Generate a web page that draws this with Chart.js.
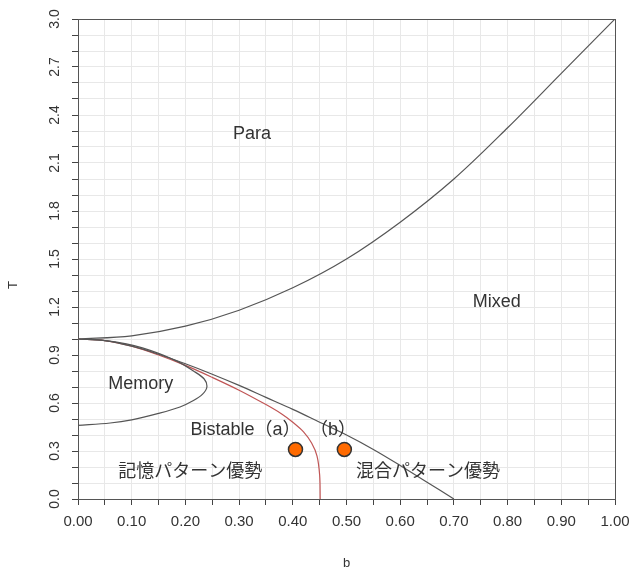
<!DOCTYPE html>
<html>
<head>
<meta charset="utf-8">
<script src="https://cdn.jsdelivr.net/npm/chart.js@4/dist/chart.umd.min.js"></script>
<style>
html,body{margin:0;padding:0;background:#fff;}
#wrap{position:relative;width:632px;height:573px;}
</style>
</head>
<body>
<div id="wrap"><canvas id="c" width="632" height="573"></canvas></div>
<script>
// ---- data ----
const paraB = [0, 0.1, 0.2, 0.3, 0.4, 0.5, 0.6, 0.7, 0.8, 0.9, 1.0];
const paraT = [1.0, 1.02, 1.08, 1.18, 1.32, 1.50, 1.73, 2.00, 2.32, 2.66, 3.0];

const mixB = [0, 0.05, 0.1, 0.15, 0.2, 0.25, 0.3, 0.35, 0.4, 0.45, 0.5, 0.55, 0.6, 0.65, 0.7];
const mixT = [1.0, 0.99, 0.955, 0.905, 0.845, 0.78, 0.71, 0.635, 0.56, 0.48, 0.40, 0.31, 0.21, 0.105, 0.0];

const redB = [0, 0.05, 0.1, 0.15, 0.2, 0.25, 0.3, 0.35, 0.38, 0.4, 0.42, 0.435, 0.445, 0.45, 0.451];
const redT = [1.0, 0.99, 0.955, 0.90, 0.835, 0.76, 0.68, 0.59, 0.53, 0.48, 0.42, 0.35, 0.27, 0.15, 0.0];

const memB = [0, 0.06, 0.1, 0.15, 0.19, 0.215, 0.232, 0.24, 0.235, 0.215, 0.185, 0.15, 0.12, 0.09, 0.05, 0];
const memT = [0.46, 0.475, 0.495, 0.535, 0.575, 0.615, 0.655, 0.70, 0.75, 0.80, 0.86, 0.91, 0.945, 0.97, 0.99, 1.0];

const ptB = [0.405, 0.496];
const ptT = [0.31, 0.31];

const labelTexts = ["Para", "Mixed", "Memory", "Bistable（a）", "（b）", "記憶パターン優勢", "混合パターン優勢"];
const labelB = [0.324, 0.780, 0.117, 0.312, 0.475, 0.209, 0.652];
const labelT = [2.28, 1.23, 0.72, 0.43, 0.43, 0.17, 0.17];

const xTickStep = 0.05;
const yTickStep = 0.1;

// ---- helpers ----
function pts(bs, ts) { return bs.map((b, i) => ({x: b, y: ts[i]})); }

const lineStyle = (data, color) => ({
  data: data, showLine: true, borderColor: color, borderWidth: 1.2,
  pointRadius: 0, pointHoverRadius: 0, tension: 0.35, fill: false
});

const annotate = {
  id: 'annotate',
  afterDatasetsDraw(chart) {
    const ctx = chart.ctx, xs = chart.scales.x, ys = chart.scales.y;
    ctx.save();
    ctx.fillStyle = '#333';
    ctx.textAlign = 'center';
    ctx.textBaseline = 'middle';
    labelTexts.forEach((t, i) => {
      ctx.font = '18px "Liberation Sans", "Noto Sans CJK JP", sans-serif';
      ctx.fillText(t, xs.getPixelForValue(labelB[i]), ys.getPixelForValue(labelT[i]));
    });
    ctx.restore();
  }
};

const gridColor = '#e8e8e8';
const axisColor = '#555';

new Chart(document.getElementById('c'), {
  type: 'scatter',
  data: {
    datasets: [
      lineStyle(pts(paraB, paraT), '#555'),
      lineStyle(pts(mixB, mixT), '#555'),
      lineStyle(pts(memB, memT), '#555'),
      lineStyle(pts(redB, redT), '#c05555'),
      {
        data: pts(ptB, ptT), showLine: false, pointRadius: 7, pointHoverRadius: 7,
        backgroundColor: '#ff6a00', borderColor: '#333', borderWidth: 1.5
      }
    ]
  },
  options: {
    responsive: false,
    animation: false,
    devicePixelRatio: 1,
    layout: {padding: 0, autoPadding: false},
    plugins: {legend: {display: false}, tooltip: {enabled: false}},
    scales: {
      x: {
        type: 'linear', position: 'bottom', min: 0, max: 1,
        afterFit(s) { s.height = 74; s.paddingRight = 0; },
        border: {display: true, color: axisColor, width: 1},
        grid: {color: gridColor, tickColor: '#444', tickLength: 6, drawTicks: true},
        ticks: {
          stepSize: xTickStep, autoSkip: false, maxRotation: 0, minRotation: 0,
          padding: 8, color: '#333',
          font: {family: '"Liberation Sans", Arial, sans-serif', size: 15},
          callback(v) { return Math.round(v * 100) % 10 === 0 ? v.toFixed(2) : ''; }
        },
        title: {display: true, text: 'b', color: '#333', padding: {top: 0, bottom: 2},
          font: {family: '"Liberation Sans", Arial, sans-serif', size: 13}}
      },
      y: {
        type: 'linear', position: 'left', min: 0, max: 3,
        afterFit(s) { s.width = 78; },
        border: {display: true, color: axisColor, width: 1},
        grid: {color: gridColor, tickColor: '#444', tickLength: 6, drawTicks: true},
        ticks: {
          stepSize: yTickStep, autoSkip: false, minRotation: 90, maxRotation: 90,
          crossAlign: 'center', padding: 7, color: '#333',
          font: {family: '"Liberation Sans", Arial, sans-serif', size: 14},
          callback(v) { return Math.round(v * 10) % 3 === 0 ? v.toFixed(1) : ''; }
        },
        title: {display: true, text: 'T\u2003\u2003\u2003\u2003', color: '#333', padding: {top: 6, bottom: 0},
          font: {family: '"Liberation Sans", Arial, sans-serif', size: 13}}
      },
      x2: {
        type: 'linear', position: 'top', min: 0, max: 1,
        afterFit(s) { s.height = 19; },
        border: {display: true, color: axisColor, width: 1},
        grid: {drawOnChartArea: false, drawTicks: false},
        ticks: {display: false}
      },
      y2: {
        type: 'linear', position: 'right', min: 0, max: 3,
        afterFit(s) { s.width = 17; },
        border: {display: true, color: axisColor, width: 1},
        grid: {drawOnChartArea: false, drawTicks: false},
        ticks: {display: false}
      }
    }
  },
  plugins: [annotate]
});
</script>
</body>
</html>
